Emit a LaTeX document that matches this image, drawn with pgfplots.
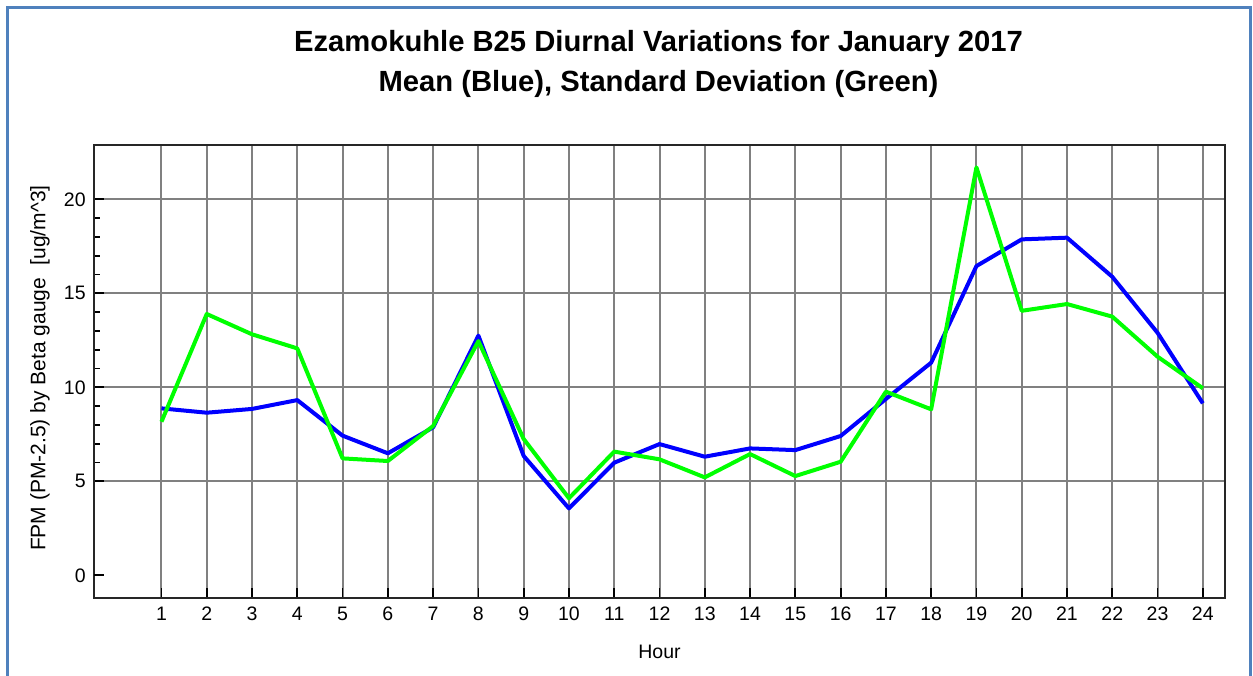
\documentclass[border=0pt]{standalone}
\usepackage{pgfplots}
\pgfplotsset{compat=1.18}
\usepackage{fontspec}
\setmainfont{Liberation Sans}
\definecolor{framecol}{RGB}{79,129,189}
\definecolor{gridcol}{RGB}{128,128,128}
\definecolor{meanblue}{RGB}{0,0,255}
\definecolor{sdgreen}{RGB}{0,255,0}
\begin{document}
\begin{tikzpicture}
\useasboundingbox (0,0) rectangle (626.5pt,337.5pt);
\draw[framecol, line width=1.5pt] (3.5pt,-2pt) -- (3.5pt,333.5pt) -- (625pt,333.5pt) -- (625pt,-2pt);
\node[font=\fontsize{14.6}{17}\selectfont\bfseries] at (329.25pt,315.5pt) {Ezamokuhle B25 Diurnal Variations for January 2017};
\node[font=\fontsize{14.6}{17}\selectfont\bfseries] at (329.25pt,295.5pt) {Mean (Blue), Standard Deviation (Green)};
\begin{axis}[
  at={(47pt,38.75pt)}, anchor=south west,
  scale only axis, width=565.5pt, height=226.25pt,
  xmin=-0.49, xmax=24.49, ymin=-1.18, ymax=22.89,
  xtick={1,...,24}, ytick={5,10,15,20},
  extra y ticks={0}, extra y tick style={grid=none},
  minor y tick num=4,
  xtick pos=bottom, ytick pos=left,
  tick align=inside,
  major tick length=5pt, minor tick length=3pt,
  tick style={black, line width=0.9pt},
  grid=major,
  major grid style={gridcol, line width=1pt},
  axis line style={black!85, line width=1pt},
  /pgf/number format/assume math mode=true,
  tick label style={font=\fontsize{9.75}{11}\selectfont},
  xticklabel style={anchor=center, yshift=-8.25pt},
  yticklabel style={anchor=east, inner sep=0pt, xshift=-4pt},
  xlabel={Hour},
  xlabel style={font=\fontsize{9.75}{11}\selectfont, at={(axis description cs:0.5,-0.1204)}, anchor=center},
  ylabel={FPM (PM-2.5) by Beta gauge\hspace{0.6em}[ug/m\textasciicircum 3]},
  ylabel style={font=\fontsize{10.5}{12}\selectfont, at={(axis description cs:-0.04775,0.507)}, anchor=center},
]
\addplot[meanblue, line width=2pt, line join=round] coordinates {
(1,8.88) (2,8.65) (3,8.85) (4,9.32) (5,7.43) (6,6.49) (7,7.87) (8,12.75)
(9,6.35) (10,3.56) (11,5.99) (12,6.98) (13,6.31) (14,6.75) (15,6.66) (16,7.41)
(17,9.38) (18,11.31) (19,16.45) (20,17.87) (21,17.96) (22,15.88) (23,12.9) (24,9.15)};
\addplot[sdgreen, line width=2pt, line join=round] coordinates {
(1,8.17) (2,13.9) (3,12.82) (4,12.07) (5,6.22) (6,6.08) (7,7.94) (8,12.46)
(9,7.25) (10,4.1) (11,6.58) (12,6.17) (13,5.21) (14,6.45) (15,5.28) (16,6.04)
(17,9.77) (18,8.83) (19,21.7) (20,14.07) (21,14.43) (22,13.76) (23,11.63) (24,9.95)};
\end{axis}
\end{tikzpicture}
\end{document}
